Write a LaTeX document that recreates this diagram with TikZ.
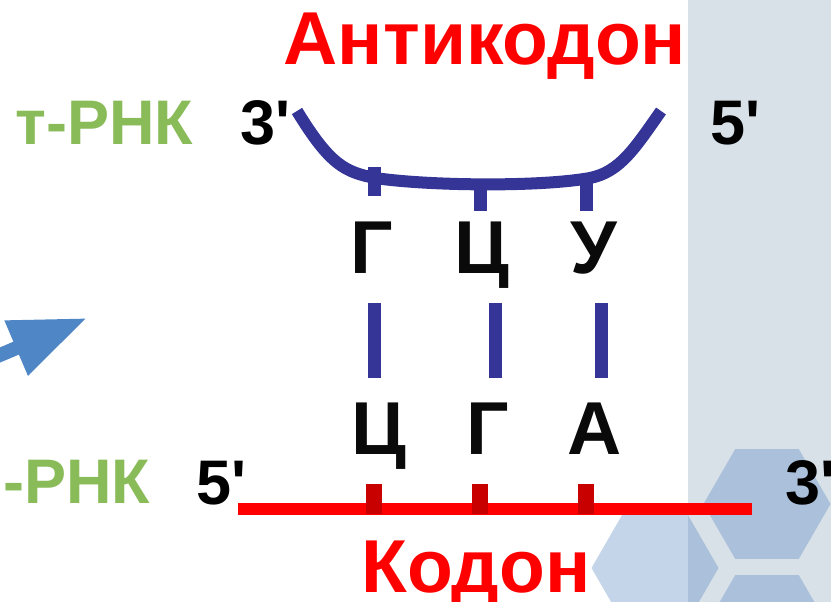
\documentclass[tikz,border=0pt]{standalone}
\usepackage{fontspec}
\setmainfont{Liberation Sans}
\usetikzlibrary{positioning, arrows.meta, shapes.geometric}

\definecolor{rnagreen}{RGB}{137,187,89}
\definecolor{arcblue}{RGB}{53,53,152}
\definecolor{tickred}{RGB}{200,0,0}
\definecolor{panelgray}{RGB}{216,224,232}
\definecolor{hexblue}{RGB}{86,135,195}
\definecolor{arrowblue}{RGB}{79,135,198}

\begin{document}
\begin{tikzpicture}[
    x=1pt, y=-1pt,
    txt/.style={inner sep=0, anchor=base, font=\bfseries\fontsize{75}{80}\selectfont},
    small/.style={inner sep=0, anchor=base west, font=\bfseries\fontsize{63}{68}\selectfont},
    base/.style={txt, text=black!96},
    hexa/.style={regular polygon, regular polygon sides=6, minimum size=127pt, inner sep=0, fill=hexblue, fill opacity=0.35},
    bond/.style={arcblue, line width=13pt},
    arrow/.style={-{Triangle[length=77pt, width=56pt]}, line width=14pt, arrowblue}
]

    \useasboundingbox (0,0) rectangle (831,602);
    \clip (0,0) rectangle (831,602);

    % Background panel and hexagons
    \fill[panelgray] (688,0) rectangle (831,602);
    \node[hexa] (hex1) at (655,568) {};
    \node[hexa] (hex2) at (767,504) {};
    \node[hexa] (hex3) at (767,630) {};

    % Arrow
    \coordinate (arrtail) at (-40,372);
    \coordinate (arrtip) at (87,318);
    \draw[arrow] (arrtail) -- (arrtip);

    % tRNA
    \node[small, text=rnagreen] (trna) at (15,145) {т-РНК};
    \node[small] (t3) at (240,145) {3\textquotesingle};
    \node[small] (t5) at (710,145) {5\textquotesingle};
    \node[txt, text=red] (anticodon) at (485,65) {Антикодон};

    \coordinate (ac3) at (297,111);
    \coordinate (ac5) at (661,111);
    \draw[arcblue, line width=12pt] (ac3) .. controls (330,165) and (345,172) .. (375,178)
        .. controls (430,186) and (540,187) .. (590,178)
        .. controls (620,172) and (635,148) .. (ac5);
    \foreach \x/\a/\b/\n in {374/167/196/1, 480/180/211/2, 586/175/211/3}{
        \coordinate (at\n) at (\x,\a);
        \coordinate (ab\n) at (\x,\b);
        \draw[arcblue, line width=13pt] (at\n) -- (ab\n);
    }

    % Anticodon bases
    \node[base] (g1) at (372,273) {Г};
    \node[base] (c1) at (482,273) {Ц};
    \node[base] (u1) at (594,273) {У};

    % Pairing
    \foreach \x/\n in {374/1, 495/2, 601/3}{
        \coordinate (bt\n) at (\x,303);
        \coordinate (bb\n) at (\x,378);
        \draw[bond] (bt\n) -- (bb\n);
    }

    % Codon bases
    \node[base] (c2) at (379,454) {Ц};
    \node[base] (g2) at (488,454) {Г};
    \node[base] (a2) at (595,454) {А};

    % mRNA
    \node[small, text=rnagreen] (mrna) at (3,503) {-РНК};
    \node[small] (m5) at (196,504) {5\textquotesingle};
    \node[small] (m3) at (785,504) {3\textquotesingle};
    \coordinate (ms) at (238,509);
    \coordinate (me) at (752,509);
    \draw[red, line width=12pt] (ms) -- (me);
    \foreach \x/\n in {374/1, 480/2, 586/3}{
        \coordinate (mt\n) at (\x,484);
        \coordinate (mb\n) at (\x,514);
        \draw[tickred, line width=16pt] (mt\n) -- (mb\n);
    }
    \node[txt, text=red] (codon) at (476,592) {Кодон};

\end{tikzpicture}
\end{document}
